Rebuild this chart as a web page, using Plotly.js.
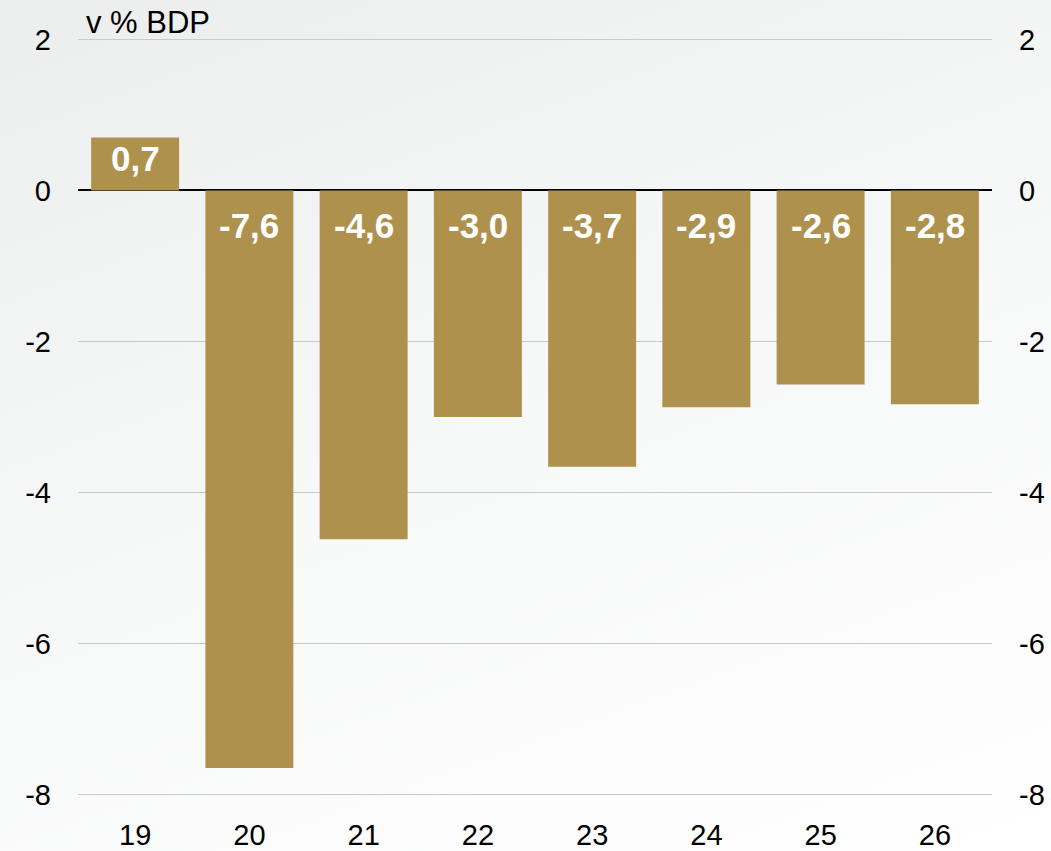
<!DOCTYPE html>
<html>
<head>
<meta charset="utf-8">
<script src="https://cdn.plot.ly/plotly-3.0.1.min.js"></script>
<style>
  html, body { margin: 0; padding: 0; }
  body { width: 1051px; height: 851px; background: linear-gradient(160deg, #eceeee 0%, #f6f7f7 45%, #ffffff 100%); }
  #chart { width: 1051px; height: 851px; }
</style>
</head>
<body>
<div id="chart"></div>
<script>
const years = ["19", "20", "21", "22", "23", "24", "25", "26"];
const values = [0.7, -7.65, -4.62, -3.0, -3.66, -2.87, -2.57, -2.83];
const valueLabels = ["0,7", "-7,6", "-4,6", "-3,0", "-3,7", "-2,9", "-2,6", "-2,8"];
const yTickVals = [2, 0, -2, -4, -6, -8];
const yTickText = ["2", "0", "-2", "-4", "-6", "-8"];
const unitLabel = "v % BDP";

const barColor = "#af914e";
const gridColor = "#c8c8c8";
const fontFamily = "'Liberation Sans', Arial, sans-serif";

const traces = [
  {
    type: "bar",
    x: years,
    y: values,
    marker: { color: barColor },
    width: 0.77,
    hoverinfo: "skip",
    showlegend: false
  },
  {
    type: "scatter",
    mode: "markers",
    x: years,
    y: values,
    yaxis: "y2",
    marker: { opacity: 0 },
    hoverinfo: "skip",
    showlegend: false
  }
];

const annotations = values.map((v, i) => ({
  x: i,
  y: v > 0 ? v / 2 : 0,
  xref: "x",
  yref: "y",
  text: "<b>" + valueLabels[i] + "</b>",
  showarrow: false,
  xanchor: "center",
  yanchor: "middle",
  yshift: v > 0 ? 6 : -35,
  font: { family: fontFamily, size: 35, color: "#ffffff" }
}));

annotations.push({
  x: 0, y: 1, xref: "paper", yref: "paper",
  xanchor: "left", yanchor: "bottom",
  xshift: 6, yshift: -3,
  text: unitLabel,
  showarrow: false,
  font: { family: fontFamily, size: 31, color: "#000000" }
});

// grid lines at the edges of the value range (Plotly hides grid lines on the plot border)
const edgeVals = [Math.max(...yTickVals), Math.min(...yTickVals)];
const shapes = edgeVals.map(v => ({
  type: "line", xref: "paper", yref: "y",
  x0: 0, x1: 1, y0: v, y1: v,
  line: { color: gridColor, width: 1 },
  layer: "below"
}));

const yaxisCommon = {
  range: [-8.006, 2.006],
  autorange: false,
  tickmode: "array",
  tickvals: yTickVals,
  ticktext: yTickText,
  tickfont: { family: fontFamily, size: 29, color: "#000000" },
  ticks: "",
  ticklabelstandoff: 26,
  fixedrange: true
};

const layout = {
  width: 1051,
  height: 851,
  margin: { l: 78, r: 59, t: 39, b: 56, pad: 0 },
  paper_bgcolor: "rgba(0,0,0,0)",
  plot_bgcolor: "rgba(0,0,0,0)",
  barmode: "overlay",
  xaxis: {
    type: "category",
    range: [-0.5, years.length - 0.5],
    autorange: false,
    tickmode: "linear",
    tick0: 0,
    dtick: 1,
    tickfont: { family: fontFamily, size: 29, color: "#000000" },
    ticks: "",
    ticklabelstandoff: 20,
    showgrid: false,
    zeroline: false,
    showline: false,
    fixedrange: true
  },
  yaxis: Object.assign({}, yaxisCommon, {
    side: "left",
    showgrid: true,
    gridcolor: gridColor,
    gridwidth: 1,
    zeroline: true,
    zerolinecolor: "#000000",
    zerolinewidth: 2,
    showline: false
  }),
  yaxis2: Object.assign({}, yaxisCommon, {
    overlaying: "y",
    side: "right",
    showgrid: false,
    zeroline: false,
    showline: false
  }),
  shapes: shapes,
  annotations: annotations,
  showlegend: false
};

Plotly.newPlot("chart", traces, layout, { displayModeBar: false, staticPlot: true });
</script>
</body>
</html>
